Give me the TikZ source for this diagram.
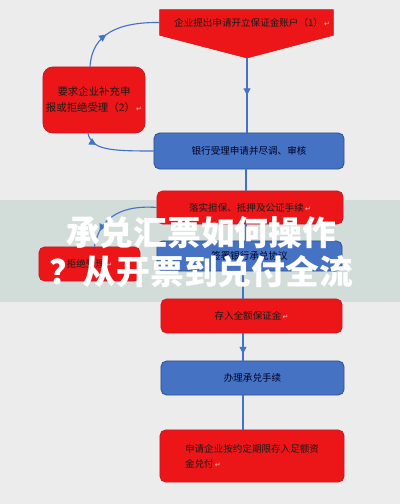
\documentclass[tikz,border=0pt]{standalone}
\usepackage{fontspec}
\setmainfont{Noto Sans CJK SC}
\newfontfamily\symbfont{DejaVu Sans}
\usepackage{tikz}
\usetikzlibrary{arrows.meta, calc, backgrounds, decorations.markings}
\definecolor{boxred}{RGB}{236,22,24}
\definecolor{edgered}{RGB}{190,30,40}
\definecolor{boxblue}{RGB}{70,114,196}
\definecolor{edgeblue}{RGB}{47,82,143}
\definecolor{linkblue}{RGB}{68,114,196}
\definecolor{paper}{RGB}{236,236,236}
\definecolor{band}{RGB}{210,221,217}
\newcommand{\pmark}{{\symbfont\fontsize{5}{5}\selectfont\color{white!70!boxred}\,↵}}

\begin{document}
\begin{tikzpicture}[
    x=0.025cm, y=-0.025cm,
    redbox/.style={rectangle, draw=edgered, fill=boxred, rounded corners=4pt, line width=0.6pt, align=center, inner sep=0pt, font=\fontsize{6.8}{10.7}\selectfont, text=black!90},
    bluebox/.style={redbox, draw=edgeblue, fill=boxblue, text=black!85!blue},
    link/.style={color=linkblue, line width=0.8pt},
    midarrow/.style={postaction={decorate}, decoration={markings, mark=at position #1 with {\arrow{Triangle[length=5pt,width=5pt]}}}},
    banner/.style={font=\fontsize{24}{27.7}\selectfont\bfseries, text=white, align=center}
]
    \useasboundingbox (0,0) rectangle (400,504);

    % boxes
    \node[inner sep=0pt, minimum width=4.325cm, minimum height=0.625cm, font=\fontsize{6.8}{10.7}\selectfont, text=black!90] (apply) at (246.5,22.5) {\hspace{8pt}企业提出申请开立保证金账户（1）\pmark};
    \coordinate (tip) at (247,58);
    \node[redbox, rounded corners=7pt, minimum width=2.55cm, minimum height=1.65cm, font=\fontsize{7.4}{11.4}\selectfont] (supp) at (94,100) {要求企业补充申\\报或拒绝受理（2）\pmark};
    \node[bluebox, minimum width=4.75cm, minimum height=0.9cm] (bank) at (249,151) {银行受理申请并尽调、审核};
    \node[redbox, minimum width=4.65cm, minimum height=0.825cm] (guar) at (250,207.5) {落实担保、抵押及公证手续\pmark};
    \node[redbox, minimum width=2.525cm, minimum height=0.85cm] (refuse) at (89.5,264) {拒绝受理\pmark};
    \node[bluebox, minimum width=4.625cm, minimum height=0.75cm] (sign) at (249.5,256) {签署银行承兑协议};
    \node[redbox, minimum width=4.525cm, minimum height=0.85cm] (deposit) at (251.5,316) {存入全额保证金\pmark};
    \node[bluebox, minimum width=4.575cm, minimum height=0.85cm] (handle) at (252.5,378) {办理承兑手续};
    \node[redbox, align=left, minimum width=4.6cm, minimum height=1.3cm] (pay) at (252,456) {申请企业按约定期限存入足额资\\金兑付\pmark};

    \begin{scope}[on background layer]
        \fill[paper] (0,0) rectangle (400,504);
        \fill[band] (0,200) rectangle (400,302);
        \fill[boxred, draw=boxred!92!black, line width=0.4pt] (apply.north west) -- (apply.north east) -- (apply.south east) -- (tip) -- (apply.south west) -- cycle;
    \end{scope}

    % connectors
    \coordinate (spine) at (246,0);
    \coordinate (lowspine) at (243,0);
    \draw[link, midarrow=0.5] (tip) -- (bank.north -| tip);
    \draw[link] (bank.south -| spine) -- (guar.north -| spine);
    \draw[link] (guar.south -| spine) -- (sign.north -| spine);
    \draw[link] (sign.south -| lowspine) -- (deposit.north -| lowspine);
    \draw[link, midarrow=0.75] (deposit.south -| lowspine) -- (handle.north -| lowspine);
    \draw[link] (handle.south -| lowspine) -- (pay.north -| lowspine);
    \draw[link, midarrow=0.4] ($(supp.north)+(-4,0)$) .. controls (92,34) and (118,22) .. (apply.west);
    \draw[link, midarrow=0.2] ($(supp.south)+(-6,0)$) .. controls (92,150) and (110,151) .. (bank.west);
    \draw[link, midarrow=0.8] (guar.west) .. controls (125,205) and (100,215) .. ($(refuse.north)+(5,0)$);

    % overlay title
    \node[banner] (title) at (201,252.5) {承兑汇票如何操作\\？从开票到兑付全流};
\end{tikzpicture}
\end{document}
